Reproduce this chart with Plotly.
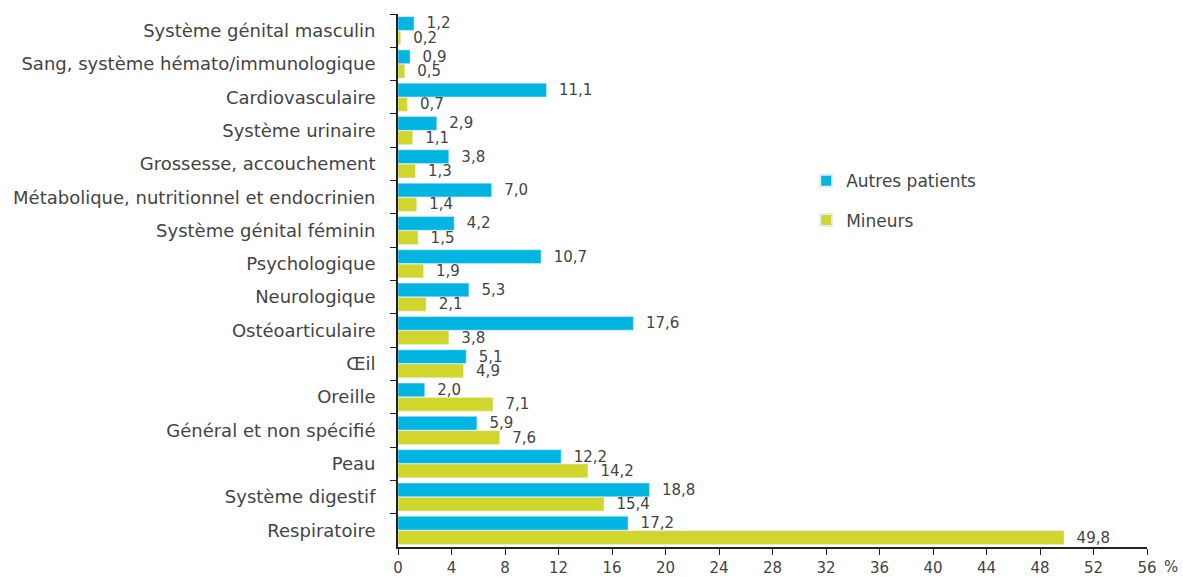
import plotly.graph_objects as go

categories = [
    "Système génital masculin",
    "Sang, système hémato/immunologique",
    "Cardiovasculaire",
    "Système urinaire",
    "Grossesse, accouchement",
    "Métabolique, nutritionnel et endocrinien",
    "Système génital féminin",
    "Psychologique",
    "Neurologique",
    "Ostéoarticulaire",
    "Œil",
    "Oreille",
    "Général et non spécifié",
    "Peau",
    "Système digestif",
    "Respiratoire",
]
autres = [1.2, 0.9, 11.1, 2.9, 3.8, 7.0, 4.2, 10.7, 5.3, 17.6, 5.1, 2.0, 5.9, 12.2, 18.8, 17.2]
mineurs = [0.2, 0.5, 0.7, 1.1, 1.3, 1.4, 1.5, 1.9, 2.1, 3.8, 4.9, 7.1, 7.6, 14.2, 15.4, 49.8]
x_ticks = list(range(0, 57, 4))

def fr(v):
    return f"{v:.1f}".replace(".", ",")

FONT = "DejaVu Sans, Liberation Sans, Arial, sans-serif"
TXT = "#444444"

fig = go.Figure()
fig.add_trace(go.Bar(
    y=categories, x=autres, orientation="h", name="Autres patients",
    legendgroup="a",
    marker_color="#00B5E2", text=[fr(v) for v in autres],
    texttemplate="  %{text}", textposition="outside", constraintext="none",
    textfont=dict(size=15, color=TXT, family=FONT), cliponaxis=False,
))
fig.add_trace(go.Bar(
    y=categories, x=mineurs, orientation="h", name="Mineurs",
    legendgroup="b",
    marker_color="#D1D62D", text=[fr(v) for v in mineurs],
    texttemplate="  %{text}", textposition="outside", constraintext="none",
    textfont=dict(size=15, color=TXT, family=FONT), cliponaxis=False,
))

fig.update_layout(
    width=1183, height=577,
    margin=dict(l=398, r=36, t=14, b=30),
    paper_bgcolor="white", plot_bgcolor="white",
    barmode="group", bargap=0.14, bargroupgap=0.04,
    font=dict(family=FONT, size=16, color=TXT),
    showlegend=True,
    legend=dict(x=0.545, y=0.72, xanchor="left", yanchor="top",
                font=dict(size=17, color=TXT, family=FONT),
                itemsizing="constant", tracegroupgap=14, itemwidth=30,
                bgcolor="rgba(0,0,0,0)"),
    xaxis=dict(range=[0, 56], tickvals=x_ticks, ticktext=[str(t) for t in x_ticks],
               showgrid=False, zeroline=False, showline=True, linecolor="#222222",
               linewidth=1.5, ticks="outside", ticklen=6, tickcolor="#222222",
               tickfont=dict(size=15, color=TXT, family=FONT), automargin=False),
    yaxis=dict(autorange="reversed", showgrid=False, zeroline=False, showline=True,
               linecolor="#222222", linewidth=1.5, ticks="outside", ticklen=6,
               tickcolor="#222222", tickson="boundaries", automargin=False,
               tickfont=dict(size=18, color=TXT, family=FONT), ticksuffix="   "),
    annotations=[dict(text="%", xref="paper", yref="paper", x=1.02, y=-0.037,
                      xanchor="left", yanchor="middle", showarrow=False,
                      font=dict(size=15, color=TXT, family=FONT))],
)

fig.write_html("out.html", config={"displayModeBar": False},
               post_script="document.body.style.margin='0';document.body.style.padding='0';")
